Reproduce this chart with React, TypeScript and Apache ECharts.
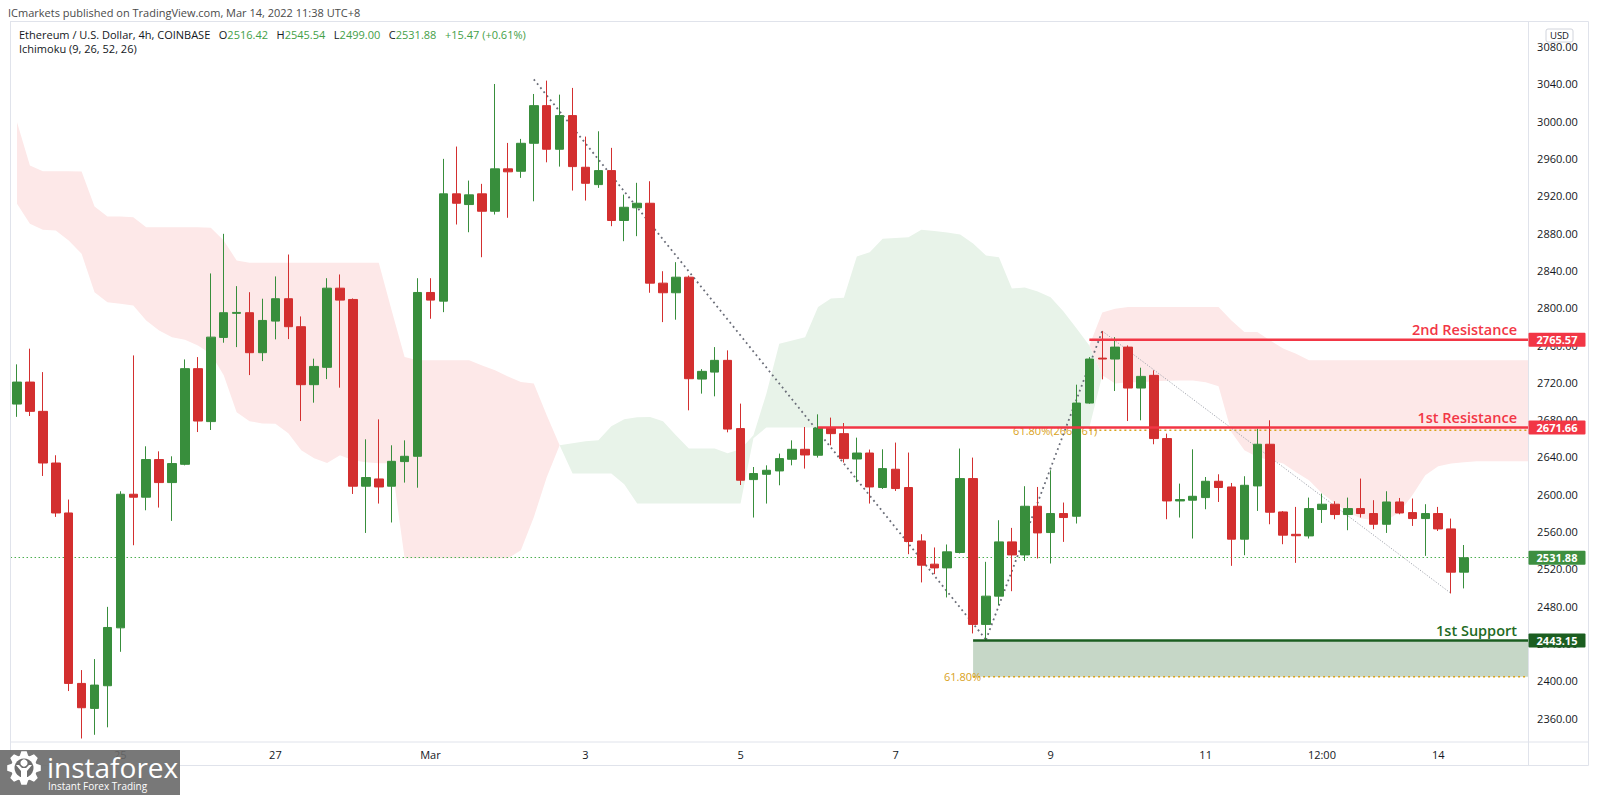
import React, { useEffect, useRef } from 'react';
import * as echarts from 'echarts';

// ---------- DATA ----------
const barCount = 113;
const futureBars = 5;
const startTime = Date.UTC(2022, 1, 23, 16, 0); // Feb 23 16:00 (UTC+8 chart time)
const categories: string[] = Array.from({ length: barCount + futureBars }, (_, i) => {
  const d = new Date(startTime + i * 4 * 3600 * 1000);
  return `${d.getUTCMonth() + 1}/${d.getUTCDate()} ${String(d.getUTCHours()).padStart(2, '0')}:00`;
});

const tickIndex = [8, 20, 32, 44, 56, 68, 80, 92, 101, 110];
const tickText = ['25', '27', 'Mar', '3', '5', '7', '9', '11', '12:00', '14'];
const yTicks = [2360, 2400, 2440, 2480, 2520, 2560, 2600, 2640, 2680, 2720, 2760, 2800, 2840, 2880, 2920, 2960, 3000, 3040, 3080];

const opens = [2696.7, 2720.3, 2688.9, 2633.5, 2579.9, 2397.1, 2370.3, 2394.6, 2456.7, 2600.0,
  2596.8, 2637.2, 2612.5, 2632.1, 2734.7, 2677.9, 2768.2, 2794.0, 2794.7, 2751.8,
  2785.7, 2809.7, 2779.7, 2717.5, 2736.1, 2821.0, 2808.9, 2608.6, 2616.4, 2608.6,
  2635.0, 2640.7, 2816.4, 2807.1, 2922.2, 2910.7, 2922.2, 2903.5, 2949.0, 2946.4,
  2976.4, 3016.8, 2970.0, 3006.1, 2950.7, 2932.1, 2947.1, 2893.6, 2907.2, 2912.1,
  2826.4, 2816.1, 2832.8, 2723.5, 2731.0, 2743.6, 2670.4, 2615.7, 2621.4, 2625.0,
  2637.5, 2648.2, 2641.8, 2671.0, 2665.0, 2637.8, 2644.2, 2607.2, 2626.8, 2607.2,
  2549.9, 2525.0, 2521.0, 2537.5, 2616.8, 2460.4, 2490.7, 2548.9, 2534.9, 2587.1,
  2558.9, 2579.3, 2576.4, 2697.8, 2746.0, 2745.0, 2757.8, 2713.9, 2727.5, 2659.7,
  2592.8, 2593.6, 2596.4, 2613.9, 2607.8, 2551.8, 2608.9, 2653.6, 2581.0, 2557.0,
  2555.3, 2583.6, 2589.3, 2578.2, 2584.6, 2579.3, 2567.8, 2591.7, 2580.3, 2573.9,
  2579.3, 2562.8, 2516.42];
const highs = [2739.3, 2756.1, 2731.0, 2641.8, 2594.3, 2411.4, 2423.2, 2479.2, 2603.2, 2748.9,
  2651.4, 2646.0, 2640.7, 2744.6, 2747.1, 2836.8, 2879.3, 2823.2, 2816.7, 2809.7,
  2833.6, 2857.1, 2790.7, 2745.4, 2831.7, 2835.7, 2810.0, 2658.9, 2680.3, 2652.5,
  2657.8, 2831.7, 2831.7, 2959.7, 2972.9, 2936.4, 2932.9, 3040.0, 2976.8, 2981.1,
  3029.3, 3043.6, 3028.6, 3035.8, 2983.6, 2989.3, 2971.5, 2921.4, 2934.0, 2935.7,
  2839.2, 2848.9, 2834.5, 2734.2, 2757.8, 2754.3, 2697.2, 2629.2, 2631.0, 2643.6,
  2657.8, 2672.1, 2685.7, 2682.2, 2676.4, 2660.7, 2647.9, 2648.2, 2655.4, 2644.7,
  2557.1, 2542.9, 2546.1, 2649.0, 2639.3, 2527.5, 2572.1, 2563.9, 2608.6, 2607.8,
  2625.7, 2591.1, 2717.5, 2747.1, 2775.0, 2768.5, 2759.6, 2735.7, 2732.9, 2665.0,
  2611.4, 2648.2, 2618.5, 2621.4, 2612.1, 2619.3, 2670.4, 2679.3, 2582.0, 2586.4,
  2596.4, 2600.7, 2592.5, 2596.4, 2616.8, 2593.6, 2603.2, 2596.0, 2595.4, 2589.3,
  2586.4, 2573.9, 2545.54];
const lows = [2683.0, 2683.9, 2619.6, 2575.7, 2388.9, 2338.0, 2342.0, 2350.0, 2431.0, 2545.3,
  2582.8, 2585.7, 2571.4, 2631.0, 2666.7, 2668.9, 2762.5, 2757.8, 2727.8, 2742.8,
  2766.1, 2766.4, 2678.5, 2698.2, 2723.5, 2714.3, 2600.3, 2558.5, 2590.0, 2569.7,
  2612.5, 2607.0, 2788.2, 2795.3, 2889.3, 2881.0, 2854.2, 2900.0, 2896.5, 2939.3,
  2914.2, 2956.0, 2951.4, 2925.7, 2915.0, 2928.6, 2887.5, 2871.4, 2876.8, 2816.1,
  2784.6, 2787.2, 2690.0, 2707.9, 2705.0, 2666.4, 2609.9, 2575.0, 2590.0, 2609.6,
  2631.0, 2627.5, 2639.3, 2652.5, 2634.0, 2613.0, 2590.0, 2605.7, 2603.5, 2535.7,
  2505.4, 2514.3, 2489.3, 2536.5, 2450.7, 2443.2, 2481.0, 2496.0, 2528.5, 2531.1,
  2525.7, 2548.9, 2568.6, 2697.0, 2723.2, 2710.7, 2678.5, 2679.3, 2653.6, 2573.2,
  2575.0, 2552.5, 2583.9, 2591.7, 2523.2, 2534.6, 2582.1, 2567.8, 2546.4, 2526.4,
  2552.5, 2569.2, 2573.2, 2561.4, 2575.0, 2562.5, 2558.5, 2578.5, 2566.0, 2533.9,
  2560.6, 2493.6, 2499.0];
const closes = [2720.3, 2688.9, 2633.5, 2579.9, 2397.1, 2371.0, 2395.3, 2457.1, 2600.0, 2596.8,
  2637.2, 2612.5, 2632.9, 2734.7, 2678.5, 2768.5, 2794.7, 2795.0, 2751.8, 2786.4,
  2809.7, 2779.7, 2717.5, 2737.1, 2821.0, 2808.2, 2608.6, 2617.9, 2607.8, 2635.3,
  2640.7, 2816.4, 2808.2, 2922.2, 2912.1, 2921.1, 2903.5, 2949.0, 2945.8, 2976.4,
  3016.8, 2970.0, 3006.1, 2951.4, 2933.5, 2947.1, 2893.6, 2907.8, 2912.1, 2826.4,
  2816.1, 2832.8, 2723.9, 2731.8, 2743.6, 2669.9, 2615.0, 2622.2, 2625.7, 2638.2,
  2648.2, 2642.1, 2671.0, 2665.0, 2638.2, 2644.2, 2607.8, 2627.5, 2606.1, 2549.3,
  2523.9, 2521.0, 2538.2, 2616.8, 2460.4, 2490.7, 2548.9, 2534.9, 2587.1, 2558.5,
  2579.3, 2575.0, 2697.8, 2745.0, 2745.0, 2757.8, 2713.9, 2726.4, 2659.7, 2592.8,
  2594.3, 2597.8, 2613.9, 2607.2, 2551.8, 2609.6, 2653.6, 2580.7, 2556.1, 2555.5,
  2584.6, 2589.3, 2578.2, 2584.6, 2579.3, 2567.8, 2591.7, 2579.9, 2573.9, 2579.3,
  2562.8, 2516.4, 2531.88];

// Ichimoku leading spans (already shifted forward 26 bars)
const senkouA = [2911.5, 2890.0, 2883.6, 2882.9, 2872.1, 2857.9, 2816.7, 2806.0, 2804.3, 2802.5,
  2786.4, 2775.7, 2768.5, 2765.7, 2759.6, 2750.7, 2727.5, 2687.8, 2678.2, 2676.0,
  2675.7, 2665.3, 2647.1, 2638.6, 2633.5, 2641.8, 2636.4, 2634.3, 2633.2, 2633.2,
  2531.4, 2531.4, 2531.4, 2531.4, 2531.4, 2531.4, 2531.4, 2531.4, 2531.4, 2540.0,
  2575.3, 2618.2, 2652.5, 2654.6, 2656.8, 2657.8, 2672.8, 2680.3, 2682.5, 2682.8,
  2678.2, 2663.2, 2649.0, 2649.0, 2649.0, 2643.9, 2648.2, 2663.2, 2707.9, 2761.5,
  2765.0, 2768.5, 2800.7, 2810.0, 2810.7, 2855.0, 2859.6, 2874.0, 2874.8, 2875.7,
  2883.6, 2882.3, 2880.7, 2878.6, 2868.9, 2856.1, 2854.3, 2820.7, 2821.8, 2817.5,
  2811.4, 2796.1, 2777.9, 2759.6, 2727.5, 2718.9, 2720.0, 2720.0, 2721.1, 2721.6,
  2722.1, 2722.1, 2720.0, 2715.7, 2666.4, 2647.1, 2639.9, 2636.4, 2632.9, 2623.6,
  2615.0, 2601.1, 2590.4, 2580.7, 2574.3, 2572.1, 2572.1, 2580.7, 2598.9, 2620.3,
  2630.0, 2632.9, 2634.3, 2635.3, 2635.3, 2635.3, 2635.3, 2635.3];
const senkouB = [2998.9, 2952.5, 2946.4, 2946.4, 2946.4, 2946.1, 2908.6, 2897.9, 2897.9, 2897.1,
  2886.4, 2886.4, 2886.4, 2886.4, 2886.4, 2885.7, 2872.1, 2850.7, 2848.2, 2848.2,
  2848.2, 2848.2, 2848.2, 2848.2, 2848.2, 2848.2, 2848.2, 2848.2, 2848.2, 2797.1,
  2747.1, 2743.6, 2743.6, 2743.6, 2743.6, 2743.6, 2738.2, 2732.9, 2726.4, 2720.3,
  2718.9, 2684.6, 2652.5, 2622.2, 2622.2, 2622.2, 2622.2, 2610.7, 2590.0, 2590.0,
  2590.0, 2590.0, 2590.0, 2590.0, 2590.0, 2590.0, 2590.0, 2660.0, 2671.7, 2671.7,
  2671.7, 2671.7, 2671.7, 2671.7, 2671.7, 2671.7, 2671.7, 2671.7, 2671.7, 2671.7,
  2671.7, 2671.7, 2671.7, 2671.7, 2671.7, 2671.7, 2671.7, 2671.7, 2671.7, 2671.7,
  2671.7, 2671.7, 2671.7, 2671.7, 2795.0, 2799.0, 2800.7, 2800.7, 2800.7, 2800.7,
  2800.7, 2800.7, 2800.7, 2800.7, 2786.4, 2773.9, 2773.9, 2765.0, 2756.4, 2750.7,
  2743.6, 2743.6, 2743.6, 2743.6, 2743.6, 2743.6, 2743.6, 2743.6, 2743.6, 2743.6,
  2743.6, 2743.6, 2743.6, 2743.6, 2743.6, 2743.6, 2743.6, 2743.6];

const resistance2 = 2765.57;
const resistance1 = 2671.66;
const support1 = 2443.15;
const lastPrice = 2531.88;
const fibUpper = 2668.61;
const fibLower = 2404.2;
const resistance2Start = 83;
const resistance1Start = 62;
const supportStart = 74;
const levelEnd = 117;

const trendDown1 = [[40, 3045.0], [75, 2444.0]];
const trendUp = [[75, 2444.0], [84, 2775.0]];
const trendDown2 = [[84, 2775.0], [111, 2493.6]];

// ---------- STYLE ----------
const FONT = "'Open Sans', 'Noto Sans', 'Liberation Sans', sans-serif";
const UP = '#388e3c';
const DOWN = '#d32f2f';
const RED_LINE = '#f23645';
const SUPPORT = '#1b5e20';
const FIB = '#d9a21b';
const FRAME = '#e0e3eb';

const Y_MIN = 2334.26;
const Y_MAX = 3108.64;

function gearPoints(cx: number, cy: number, ro: number, ri: number, n: number) {
  const pts: number[][] = [];
  const step = (2 * Math.PI) / n;
  for (let k = 0; k < n; k++) {
    const b = k * step - Math.PI / 2;
    const angs = [[b - 0.42 * step, ri], [b - 0.2 * step, ro], [b + 0.2 * step, ro], [b + 0.42 * step, ri]];
    angs.forEach(([a, r]) => pts.push([cx + r * Math.cos(a), cy + r * Math.sin(a)]));
  }
  return pts;
}

export default function App() {
  const ref = useRef<HTMLDivElement>(null);

  useEffect(() => {
    document.body.style.margin = '0';
    const el = ref.current!;
    const chart = echarts.init(el, undefined, { renderer: 'svg' });

    const candles = opens.map((o, i) => [o, closes[i], lows[i], highs[i]]);
    const base = senkouA.map((a, i) => Math.min(a, senkouB[i]));
    const green = senkouA.map((a, i) => Math.max(a - senkouB[i], 0));
    const red = senkouA.map((a, i) => Math.max(senkouB[i] - a, 0));

    const hLine = (start: number, value: number) => [[start, value], [levelEnd, value]];

    const option: any = {
      animation: false,
      backgroundColor: '#ffffff',
      grid: { left: 10.54, top: 20, right: 64.9, bottom: 53, containLabel: false },
      xAxis: {
        type: 'category',
        data: categories,
        boundaryGap: true,
        axisLine: { show: false },
        axisTick: { show: false },
        splitLine: { show: false },
        axisLabel: {
          interval: (idx: number) => tickIndex.includes(idx),
          formatter: (_v: string, idx: number) => {
            const k = tickIndex.indexOf(idx);
            return k >= 0 ? tickText[k] : '';
          },
          color: '#131722',
          fontSize: 11,
          fontFamily: FONT,
          margin: 7,
        },
      },
      yAxis: {
        type: 'value',
        position: 'right',
        min: Y_MIN,
        max: Y_MAX,
        splitLine: { show: false },
        axisLine: { show: false },
        axisTick: { show: false },
        axisLabel: {
          customValues: yTicks,
          formatter: (v: number) => v.toFixed(2),
          color: '#131722',
          fontSize: 11,
          fontFamily: FONT,
          margin: 2,
        },
      },
      series: [
        {
          type: 'line', name: 'cloudBase', data: base, stack: 'cloud', symbol: 'none', silent: true,
          lineStyle: { opacity: 0 }, z: 1,
        },
        {
          type: 'line', name: 'cloudGreen', data: green, stack: 'cloud', symbol: 'none', silent: true,
          lineStyle: { opacity: 0 }, areaStyle: { color: '#e8f3e9', opacity: 1 }, z: 1,
        },
        {
          type: 'line', name: 'cloudRed', data: red, stack: 'cloud', symbol: 'none', silent: true,
          lineStyle: { opacity: 0 }, areaStyle: { color: '#fde8e8', opacity: 1 }, z: 1,
        },
        {
          type: 'line', data: hLine(supportStart, support1), symbol: 'none', silent: true,
          lineStyle: { opacity: 0 }, z: 2,
          markArea: {
            silent: true,
            itemStyle: { color: 'rgba(27,94,32,0.25)' },
            data: [[{ coord: [supportStart, support1] }, { coord: [levelEnd, fibLower] }]],
          },
        },
        {
          type: 'line', data: hLine(resistance2Start, fibUpper), symbol: 'none', silent: true,
          lineStyle: { color: FIB, width: 1.5, type: [2, 3] }, z: 3,
        },
        {
          type: 'line', data: hLine(supportStart, fibLower), symbol: 'none', silent: true,
          lineStyle: { color: FIB, width: 1.5, type: [2, 3] }, z: 3,
        },
        {
          type: 'line', data: trendDown1, symbol: 'none', silent: true,
          lineStyle: { color: '#6a6d78', width: 1.8, type: [1.8, 3.4] }, z: 3,
        },
        {
          type: 'line', data: trendUp, symbol: 'none', silent: true,
          lineStyle: { color: '#6a6d78', width: 1.8, type: [1.8, 3.4] }, z: 3,
        },
        {
          type: 'line', data: trendDown2, symbol: 'none', silent: true,
          lineStyle: { color: '#a3a6af', width: 1, type: [1.2, 1.6] }, z: 3,
        },
        {
          type: 'candlestick',
          data: candles,
          barWidth: 9,
          silent: true,
          z: 5,
          itemStyle: { color: UP, color0: DOWN, borderColor: UP, borderColor0: DOWN, borderWidth: 1 },
          markLine: {
            silent: true,
            symbol: ['none', 'none'],
            label: { show: false },
            lineStyle: { color: '#4caf50', width: 1, type: [1.5, 2.5] },
            data: [{ yAxis: lastPrice }],
          },
        },
        {
          type: 'line', data: hLine(resistance2Start, resistance2), symbol: 'none', silent: true,
          lineStyle: { color: RED_LINE, width: 2.5 }, z: 6,
        },
        {
          type: 'line', data: hLine(resistance1Start, resistance1), symbol: 'none', silent: true,
          lineStyle: { color: RED_LINE, width: 2.5 }, z: 6,
        },
        {
          type: 'line', data: hLine(supportStart, support1), symbol: 'none', silent: true,
          lineStyle: { color: SUPPORT, width: 2.5 }, z: 6,
        },
      ],
    };
    chart.setOption(option);

    const px = (i: number, p: number) => {
      const r = chart.convertToPixel({ gridIndex: 0 }, [i, p]) as number[];
      return r;
    };
    const Y = (p: number) => px(0, p)[1];
    const X = (i: number) => px(i, Y_MIN)[0];

    const els: any[] = [];
    const line = (x1: number, y1: number, x2: number, y2: number) => ({
      type: 'line', z: 90, silent: true,
      shape: { x1, y1, x2, y2 }, style: { stroke: FRAME, lineWidth: 1 },
    });
    // frame
    els.push(line(10, 21.5, 1588.5, 21.5));
    els.push(line(10.5, 21.5, 10.5, 765.5));
    els.push(line(1588.5, 21.5, 1588.5, 765.5));
    els.push(line(10, 765.5, 1588.5, 765.5));
    els.push(line(10, 742, 1588.5, 742));
    els.push(line(1528.5, 21.5, 1528.5, 765.5));

    // header
    els.push({
      type: 'text', z: 90, silent: true, x: 8, y: 12,
      style: { text: 'ICmarkets published on TradingView.com, Mar 14, 2022 11:38 UTC+8', fill: '#4a4a4a', font: `11px ${FONT}`, verticalAlign: 'middle' },
    });
    els.push({
      type: 'text', z: 90, silent: true, x: 19, y: 34,
      style: {
        text: '{d|Ethereum / U.S. Dollar, 4h, COINBASE   O}{g|2516.42}{d|   H}{g|2545.54}{d|   L}{g|2499.00}{d|   C}{g|2531.88}{g|   +15.47 (+0.61%)}',
        verticalAlign: 'middle',
        font: `11px ${FONT}`,
        rich: {
          d: { fill: '#131722', fontSize: 11, fontFamily: FONT },
          g: { fill: '#43a047', fontSize: 11, fontFamily: FONT },
        },
      },
    });
    els.push({
      type: 'text', z: 90, silent: true, x: 19, y: 48,
      style: { text: 'Ichimoku (9, 26, 52, 26)', fill: '#131722', font: `11px ${FONT}`, verticalAlign: 'middle' },
    });

    // USD box
    els.push({
      type: 'rect', z: 90, silent: true, shape: { x: 1546, y: 29, width: 27, height: 13, r: 2 },
      style: { fill: '#ffffff', stroke: '#d1d4dc', lineWidth: 1 },
    });
    els.push({
      type: 'text', z: 91, silent: true, x: 1559.5, y: 35.5,
      style: { text: 'USD', fill: '#131722', font: `9.5px ${FONT}`, align: 'center', verticalAlign: 'middle' },
    });

    // level labels
    const levelText = (text: string, value: number, color: string) => ({
      type: 'text', z: 80, silent: true, x: 1517, y: Y(value) - 10,
      style: { text, fill: color, font: `600 14.5px ${FONT}`, align: 'right', verticalAlign: 'middle' },
    });
    els.push(levelText('2nd Resistance', resistance2, RED_LINE));
    els.push(levelText('1st Resistance', resistance1, RED_LINE));
    els.push(levelText('1st Support', support1, '#1e6b23'));

    // fib labels (drawn beneath candles)
    els.push({
      type: 'text', z: 1, silent: true, x: X(resistance2Start) + 8, y: Y(fibUpper),
      style: { text: `61.80%(${fibUpper.toFixed(2)})`, fill: FIB, font: `11px ${FONT}`, align: 'right', verticalAlign: 'middle' },
    });
    els.push({
      type: 'text', z: 1, silent: true, x: X(supportStart) + 8, y: Y(fibLower),
      style: { text: '61.80%', fill: FIB, font: `11px ${FONT}`, align: 'right', verticalAlign: 'middle' },
    });

    // price tags
    const tag = (value: number, color: string) => {
      const y = Y(value);
      els.push({
        type: 'rect', z: 95, silent: true, shape: { x: 1528.5, y: y - 7, width: 57, height: 14, r: 1 },
        style: { fill: color },
      });
      els.push({
        type: 'text', z: 96, silent: true, x: 1557, y,
        style: { text: value.toFixed(2), fill: '#ffffff', font: `bold 11px ${FONT}`, align: 'center', verticalAlign: 'middle' },
      });
    };
    tag(resistance2, RED_LINE);
    tag(resistance1, RED_LINE);
    tag(lastPrice, '#3d8f40');
    tag(support1, SUPPORT);

    // watermark
    const gx = 24, gy = 768;
    els.push({
      type: 'rect', z: 98, silent: true, shape: { x: 0, y: 750, width: 180, height: 45 },
      style: { fill: 'rgba(105,105,105,0.9)' },
    });
    els.push({
      type: 'polygon', z: 99, silent: true, shape: { points: gearPoints(gx, gy, 17, 13, 8) },
      style: { fill: '#ffffff' },
    });
    els.push({
      type: 'circle', z: 99, silent: true, shape: { cx: gx, cy: gy, r: 9.5 },
      style: { fill: '#6e6e6e' },
    });
    els.push({
      type: 'circle', z: 100, silent: true, shape: { cx: gx, cy: gy - 5, r: 3.6 },
      style: { fill: '#ffffff' },
    });
    els.push({
      type: 'polygon', z: 100, silent: true,
      shape: { points: [[gx - 8, gy - 3], [gx - 5, gy - 3], [gx - 2, gy], [gx + 2, gy], [gx + 5, gy - 3], [gx + 8, gy - 3], [gx + 3, gy + 3], [gx + 3, gy + 12], [gx - 3, gy + 12], [gx - 3, gy + 3]] },
      style: { fill: '#ffffff' },
    });
    els.push({
      type: 'text', z: 100, silent: true, x: 47, y: 767,
      style: { text: 'instaforex', fill: '#ffffff', font: `28px ${FONT}`, verticalAlign: 'middle' },
    });
    els.push({
      type: 'text', z: 100, silent: true, x: 48, y: 786,
      style: { text: 'Instant Forex Trading', fill: '#ffffff', font: `10px ${FONT}`, verticalAlign: 'middle' },
    });

    chart.setOption({ graphic: { elements: els } });

    return () => {
      chart.dispose();
    };
  }, []);

  return <div ref={ref} style={{ width: 1600, height: 795 }} />;
}
